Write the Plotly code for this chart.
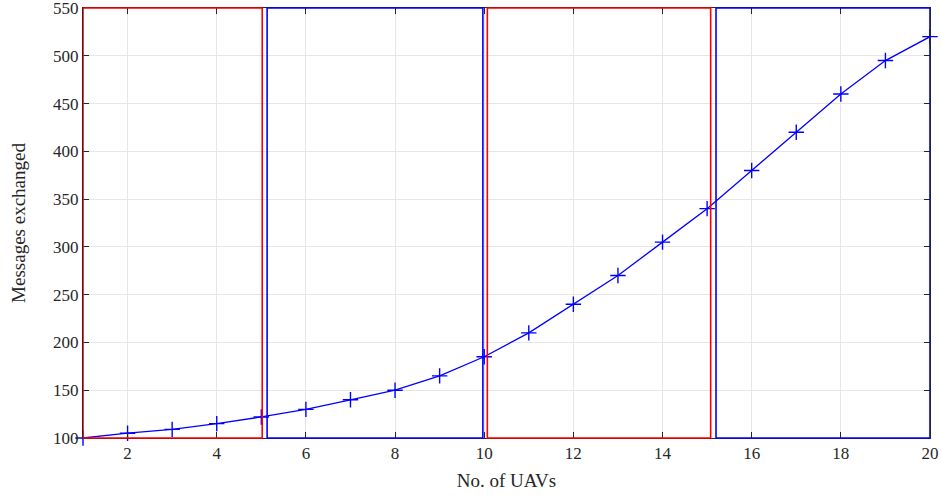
import plotly.graph_objects as go

uavs = list(range(1, 21))
messages = [100, 105, 109, 115, 122, 130, 140, 150, 165, 185,
            210, 240, 270, 305, 340, 380, 420, 460, 495, 520]

# highlight regions (x0, x1, colour) - they span the full y range
region_x0 = [1.0, 5.13, 10.07, 15.2]
region_x1 = [5.02, 9.97, 15.08, 20.0]
region_col = ["#ff0000", "#0000ff", "#ff0000", "#0000ff"]

x_ticks = list(range(2, 21, 2))
y_ticks = list(range(100, 551, 50))

fig = go.Figure()
fig.add_trace(go.Scatter(
    x=uavs, y=messages, mode="lines+markers",
    line=dict(color="#0000ff", width=1.3),
    marker=dict(symbol="cross-thin", size=11, line=dict(color="#0000ff", width=1.4)),
    showlegend=False, cliponaxis=False,
))

for x0, x1, c in zip(region_x0, region_x1, region_col):
    fig.add_shape(type="rect", xref="x", yref="y domain", x0=x0, x1=x1, y0=0, y1=1,
                  line=dict(color=c, width=1.6), layer="above")

serif = "Liberation Serif, Times New Roman, Times, serif"
tick_font = dict(family=serif, size=17, color="#262626")
title_font = dict(family=serif, size=19, color="#262626")
fig.update_layout(
    width=942, height=500,
    margin=dict(l=83, r=12, t=8, b=62),
    plot_bgcolor="white", paper_bgcolor="white",
    font=tick_font,
    xaxis=dict(range=[1, 20], tickvals=x_ticks, ticks="inside", ticklen=6,
               tickcolor="#262626", showline=True, linecolor="#262626", linewidth=1,
               mirror="ticks", showgrid=True, gridcolor="#e6e6e6", zeroline=False,
               tickfont=tick_font, ticklabeloverflow="allow", automargin=False,
               title=dict(text="No. of UAVs", font=title_font, standoff=11)),
    yaxis=dict(range=[100, 550], tickvals=y_ticks, ticks="inside", ticklen=6,
               tickcolor="#262626", showline=True, linecolor="#262626", linewidth=1,
               mirror="ticks", showgrid=True, gridcolor="#e6e6e6", zeroline=False,
               tickfont=tick_font, ticklabeloverflow="allow", automargin=False,
               title=dict(text="Messages exchanged", font=title_font, standoff=22)),
)

fig.write_html("out.html")
